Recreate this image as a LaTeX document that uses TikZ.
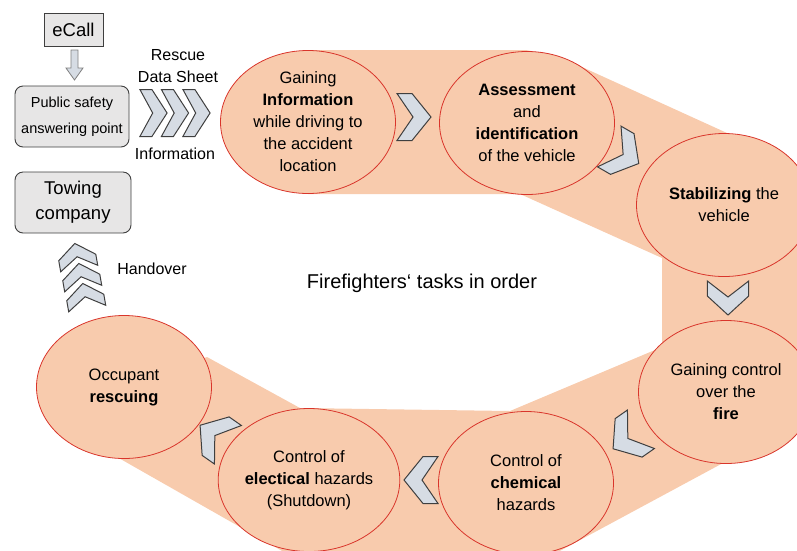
\documentclass[tikz,border=0pt]{standalone}
\usepackage{fontspec}
\setmainfont{Liberation Sans}
\usetikzlibrary{shapes.geometric}

\definecolor{peach}{HTML}{F8CBAD}
\definecolor{ellred}{HTML}{D9352B}
\definecolor{chevfill}{HTML}{D6DCE4}
\definecolor{chevline}{HTML}{3F3F3F}
\definecolor{boxfill}{HTML}{E7E6E6}

\newcommand{\ellfont}{\fontsize{16.5}{22}\selectfont}
\newcommand{\lblfont}{\fontsize{16}{22}\selectfont}

\tikzset{
  task/.style={ellipse, draw=ellred, fill=peach, line width=0.8pt, inner sep=0pt,
    minimum width=175pt, minimum height=143pt, align=center, font=\ellfont},
  chevron/.style={fill=chevfill, draw=chevline, line width=1pt, line join=miter},
  infobox/.style={draw=chevline, fill=boxfill, line width=0.9pt, inner sep=0pt, align=center},
  lbl/.style={align=center, font=\lblfont, inner sep=0pt},
  chev/.pic={\filldraw[chevron] (-17,-23.5) -- (-2,-23.5) -- (17,0) -- (-2,23.5) -- (-17,23.5) -- (-1,0) -- cycle;}
}

\begin{document}
\begin{tikzpicture}[x=1pt, y=-1pt]

  \useasboundingbox (0,0) rectangle (797,550);
  \clip (0,0) rectangle (797,550);

  %% band behind the tasks
  \fill[peach] (308,50) -- (526,50) -- (560,57) -- (727,133) -- (820,175) -- (820,410)
    -- (723,463) -- (543,560) -- (298,560) -- (117,457) -- (126,388) -- (207,357)
    -- (300,408) -- (510,411) -- (662,347) -- (662,258) -- (520,194) -- (308,194) -- cycle;

  %% tasks in order
  \node[task] (info)   at (308,122) {Gaining\\\textbf{Information}\\while driving to\\the accident\\location};
  \node[task] (assess) at (527,123) {\textbf{Assessment}\\and\\\textbf{identification}\\of the vehicle};
  \node[task] (stab)   at (724,205) {\textbf{Stabilizing} the\\vehicle};
  \node[task] (fire)   at (726,392) {Gaining control\\over the\\\textbf{fire}};
  \node[task] (chem)   at (526,483) {Control of\\\textbf{chemical}\\hazards};
  \node[task] (elec)   at (309,480) {Control of\\\textbf{electical} hazards\\(Shutdown)};
  \node[task] (rescue) at (124,387) {Occupant\\\textbf{rescuing}};

  %% chevrons between the tasks
  \pic at (414,117) {chev};               %% info -> assess
  \pic[rotate=-30] at (624,155) {chev};   %% assess -> stab
  \pic[rotate=-90, yscale=0.88] at (728,298) {chev}; %% stab -> fire
  \pic[rotate=-145] at (627,439) {chev};  %% fire -> chem
  \pic[rotate=180] at (421,480) {chev};   %% chem -> elec
  \pic[rotate=145] at (214,435) {chev};   %% elec -> rescue

  \node[font=\fontsize{20}{24}\selectfont] (order) at (422,283) {Firefighters‘ tasks in order};

  %% left column
  \node[infobox, minimum width=59pt, minimum height=33pt, font=\fontsize{18.5}{22}\selectfont] (ecall) at (73.5,30) {eCall};
  \node[infobox, rounded corners=8pt, minimum width=114pt, minimum height=61pt,
    font=\fontsize{14.5}{26}\selectfont] (psap) at (72,116.5) {Public safety\\answering point};
  \node[infobox, rounded corners=8pt, minimum width=116pt, minimum height=61pt,
    font=\fontsize{18.5}{25}\selectfont] (tow) at (73,202.5) {Towing\\company};
  \filldraw[fill=chevfill, draw=gray, line width=0.8pt]
    (71,50) -- (78,50) -- (78,68) -- (83,68) -- (74.5,80) -- (66,68) -- (71,68) -- cycle; %% ecall -> psap

  %% rescue data sheet
  \foreach \cx in {153.5,175,196.5}
    \pic[xscale=0.8] at (\cx,113) {chev};
  \node[lbl] (sheet) at (178,66) {Rescue\\Data Sheet};
  \node[lbl] (infolbl) at (175,154) {Information};

  %% handover
  \foreach \cx/\cy in {85/296,81/276,77/256}
    \pic[rotate=100, xscale=0.75, yscale=0.8] at (\cx,\cy) {chev};
  \node[lbl] (hand) at (152,269) {Handover};

\end{tikzpicture}
\end{document}
